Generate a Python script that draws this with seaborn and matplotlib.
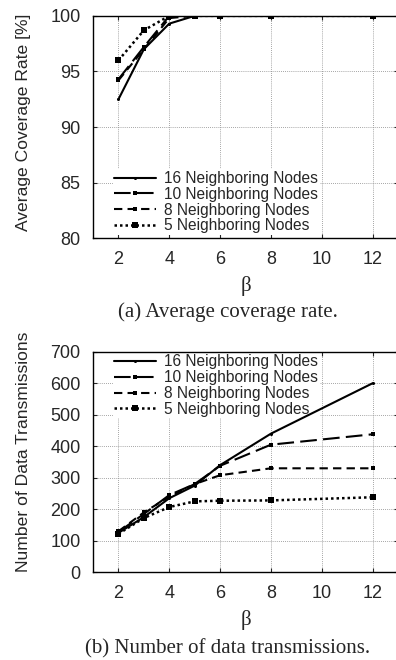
import matplotlib
matplotlib.use("Agg")
import matplotlib.pyplot as plt
import seaborn as sns
import pandas as pd

beta = [2, 3, 4, 5, 6, 8, 12]
series_names = ["16 Neighboring Nodes", "10 Neighboring Nodes",
                "8 Neighboring Nodes", "5 Neighboring Nodes"]

coverage_16 = [92.5, 97.0, 99.3, 100, 100, 100, 100]
coverage_10 = [94.3, 97.2, 100, 100, 100, 100, 100]
coverage_8 = [94.2, 97.0, 99.8, 100, 100, 100, 100]
coverage_5 = [96.0, 98.7, 100, 100, 100, 100, 100]

trans_16 = [125, 175, 235, 275, 340, 440, 600]
trans_10 = [128, 185, 245, 280, 338, 405, 438]
trans_8 = [130, 190, 240, 280, 308, 330, 330]
trans_5 = [122, 172, 207, 225, 227, 228, 238]

x_ticks = [2, 4, 6, 8, 10, 12]


def to_frame(values):
    rows = []
    for name, vals in zip(series_names, values):
        for b, v in zip(beta, vals):
            rows.append({"beta": b, "value": v, "series": name})
    return pd.DataFrame(rows)


# line style per series (gnuplot-like)
styles = {
    "16 Neighboring Nodes": dict(ls="-", marker="o", ms=2.2, lw=1.5),
    "10 Neighboring Nodes": dict(ls=(0, (8, 3)), marker="s", ms=3, lw=1.5),
    "8 Neighboring Nodes": dict(ls=(0, (4, 2.5)), marker="s", ms=3, lw=1.5),
    "5 Neighboring Nodes": dict(ls=(0, (1, 1.2)), marker="s", ms=5, lw=1.8),
}


def draw(ax, df, ylim, yticks, ylabel, label_y, legend_loc, legend_anchor):
    for name in series_names:
        st = styles[name]
        sns.lineplot(data=df[df["series"] == name], x="beta", y="value", ax=ax,
                     color="black", linestyle=st["ls"], linewidth=st["lw"],
                     marker=st["marker"], markersize=st["ms"], markeredgewidth=0,
                     label=name, errorbar=None)
    ax.set_xlim(1, 13)
    ax.set_ylim(*ylim)
    ax.set_xticks(x_ticks)
    ax.set_yticks(yticks)
    ax.grid(True, color="#888888", linestyle=(0, (1, 1.5)), linewidth=0.6)
    ax.tick_params(direction="in", top=True, right=True, length=3,
                   labelsize=13, pad=9)
    ax.set_xlabel("β", fontsize=15, family="Liberation Serif", labelpad=6)
    ax.set_ylabel(ylabel, fontsize=12.6)
    ax.yaxis.set_label_coords(-0.205, label_y)
    for sp in ax.spines.values():
        sp.set_linewidth(1.0)
        sp.set_color("black")
    leg = ax.legend(loc=legend_loc, bbox_to_anchor=legend_anchor, frameon=True,
                    fontsize=11.2, handlelength=2.7, handletextpad=0.5,
                    labelspacing=0.05, borderpad=0.1, borderaxespad=0,
                    fancybox=False, edgecolor="white", framealpha=1)
    leg.get_frame().set_linewidth(0)
    # legend box hides the grid but not the data lines
    leg.set_zorder(1.8)


sns.set_style("ticks")
plt.rcParams["font.family"] = ["Liberation Sans", "DejaVu Sans"]

fig = plt.figure(figsize=(3.96, 6.6), dpi=100)
ax1 = fig.add_axes([0.235, 0.639, 0.77, 0.337])
ax2 = fig.add_axes([0.235, 0.133, 0.77, 0.334])

draw(ax1, to_frame([coverage_16, coverage_10, coverage_8, coverage_5]),
     (80, 100), [80, 85, 90, 95, 100], "Average Coverage Rate [%]", 0.52,
     "lower left", (0.065, 0.015))
draw(ax2, to_frame([trans_16, trans_10, trans_8, trans_5]),
     (0, 700), [0, 100, 200, 300, 400, 500, 600, 700],
     "Number of Data Transmissions", 0.545, "upper left", (0.065, 0.995))

fig.text(0.575, 0.527, "(a) Average coverage rate.", ha="center", va="center",
         family="Liberation Serif", fontsize=15)
fig.text(0.575, 0.017, "(b) Number of data transmissions.", ha="center",
         va="center", family="Liberation Serif", fontsize=15)

fig.savefig("out.png", dpi=100)
